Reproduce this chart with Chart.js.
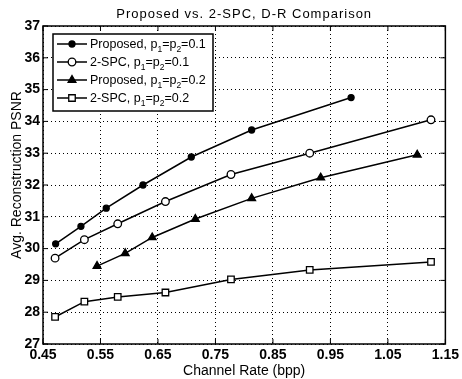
<!DOCTYPE html>
<html>
<head>
<meta charset="utf-8">
<script src="https://cdn.jsdelivr.net/npm/chart.js@4.4.1/dist/chart.umd.min.js"></script>
<style>
  html, body { margin: 0; padding: 0; background: #fff; }
  #wrap { width: 462px; height: 379px; position: relative; }
</style>
</head>
<body>
<div id="wrap"><canvas id="drChart"></canvas></div>
<script>
// channel rate (bpp) and PSNR
const ratesProp1 = [0.472, 0.516, 0.560, 0.624, 0.708, 0.813, 0.986];
const psnrProp1  = [30.15, 30.70, 31.27, 32.00, 32.88, 33.73, 34.75];
const rates2spc  = [0.471, 0.522, 0.580, 0.663, 0.777, 0.914, 1.125];
const psnr2spc1  = [29.70, 30.28, 30.78, 31.48, 32.33, 33.00, 34.05];
const ratesProp2 = [0.544, 0.593, 0.640, 0.715, 0.813, 0.933, 1.101];
const psnrProp2  = [29.45, 29.85, 30.35, 30.93, 31.58, 32.23, 32.95];
const psnr2spc2  = [27.85, 28.33, 28.48, 28.62, 29.03, 29.33, 29.58];

const seriesLabels = ["Proposed, p_1=p_2=0.1", "2-SPC, p_1=p_2=0.1", "Proposed, p_1=p_2=0.2", "2-SPC, p_1=p_2=0.2"];
const xTicks = [0.45, 0.55, 0.65, 0.75, 0.85, 0.95, 1.05, 1.15];
const yTicks = [27, 28, 29, 30, 31, 32, 33, 34, 35, 36, 37];

const titleText = "Proposed vs. 2-SPC, D-R Comparison";
const xTitle = "Channel Rate (bpp)";
const yTitle = "Avg. Reconstruction PSNR";

const FONT = "'Liberation Sans', Arial, Helvetica, sans-serif";

function pts(xs, ys) {
	return xs.map((x, i) => ({x: x, y: ys[i]}));
}

function makeSet(label, xs, ys, style, radius, fill) {
	return {
		label: label,
		data: pts(xs, ys),
		borderColor: '#000',
		borderWidth: 1.5,
		pointStyle: style,
		pointRadius: radius,
		pointBorderWidth: 1.3,
		pointBorderColor: '#000',
		pointBackgroundColor: fill,
		tension: 0
	};
}

const datasets = [
	makeSet(seriesLabels[0], ratesProp1, psnrProp1, 'circle', 3, '#000'),
	makeSet(seriesLabels[1], rates2spc, psnr2spc1, 'circle', 3.8, '#fff'),
	makeSet(seriesLabels[2], ratesProp2, psnrProp2, 'triangle', 4.5, '#000'),
	makeSet(seriesLabels[3], rates2spc, psnr2spc2, 'rect', 4.6, '#fff')
];

// text with "_x" subscripts
function drawSubText(ctx, str, x, y, size) {
	const parts = str.split(/_(.)/);
	for (let i = 0; i < parts.length; i++) {
		if (!parts[i]) continue;
		const sub = i % 2 === 1;
		ctx.font = (sub ? size - 4 : size) + 'px ' + FONT;
		ctx.fillText(parts[i], x, sub ? y + 4 : y);
		x += ctx.measureText(parts[i]).width;
	}
}

const framePlugin = {
	id: 'frame',
	afterDraw(chart) {
		const ctx = chart.ctx;
		const a = chart.chartArea;
		const xs = chart.scales.x, ys = chart.scales.y;
		ctx.save();
		ctx.strokeStyle = '#000';
		ctx.fillStyle = '#000';
		ctx.setLineDash([]);
		ctx.lineWidth = 1.5;
		ctx.strokeRect(a.left, a.top, a.right - a.left, a.bottom - a.top);

		// inner tick marks on all four sides
		ctx.lineWidth = 1;
		ctx.beginPath();
		xTicks.forEach(v => {
			const px = xs.getPixelForValue(v);
			ctx.moveTo(px, a.bottom); ctx.lineTo(px, a.bottom - 5);
			ctx.moveTo(px, a.top); ctx.lineTo(px, a.top + 5);
		});
		yTicks.forEach(v => {
			const py = ys.getPixelForValue(v);
			ctx.moveTo(a.left, py); ctx.lineTo(a.left + 5, py);
			ctx.moveTo(a.right, py); ctx.lineTo(a.right - 5, py);
		});
		ctx.stroke();

		// titles
		ctx.textAlign = 'center';
		ctx.textBaseline = 'alphabetic';
		ctx.font = '13px ' + FONT;
		ctx.letterSpacing = '1px';
		ctx.fillText(titleText, (a.left + a.right) / 2, 18);
		ctx.letterSpacing = '0px';
		ctx.font = '14px ' + FONT;
		ctx.fillText(xTitle, (a.left + a.right) / 2, 375);
		ctx.save();
		ctx.translate(21, 175);
		ctx.rotate(-Math.PI / 2);
		ctx.fillText(yTitle, 0, 0);
		ctx.restore();

		// legend box
		const lx = 53, ly = 34, lw = 160, lh = 77;
		ctx.fillStyle = '#fff';
		ctx.fillRect(lx, ly, lw, lh);
		ctx.lineWidth = 1.5;
		ctx.strokeRect(lx, ly, lw, lh);
		ctx.textAlign = 'left';
		const rows = [44, 62, 80, 98];
		chart.data.datasets.forEach((ds, i) => {
			const ry = rows[i];
			ctx.strokeStyle = '#000';
			ctx.lineWidth = 1.5;
			ctx.beginPath();
			ctx.moveTo(57, ry); ctx.lineTo(87, ry);
			ctx.stroke();
			ctx.fillStyle = ds.pointBackgroundColor;
			ctx.lineWidth = ds.pointBorderWidth;
			Chart.helpers.drawPoint(ctx, {pointStyle: ds.pointStyle, rotation: 0, radius: ds.pointRadius, borderWidth: ds.pointBorderWidth}, 72, ry);
			ctx.fillStyle = '#000';
			drawSubText(ctx, ds.label, 90, ry + 4, 12.5);
		});
		ctx.restore();
	}
};

const ctxDR = document.getElementById('drChart').getContext('2d');

window.drChart = new Chart(ctxDR, {
	type: 'line',
	data: { datasets: datasets },
	options: {
		responsive: true,
		maintainAspectRatio: false,
		animation: false,
		layout: { padding: { top: 26, right: 14, left: 0, bottom: 0 } },
		plugins: {
			legend: { display: false },
			title: { display: false },
			tooltip: { enabled: false }
		},
		scales: {
			x: {
				type: 'linear',
				min: 0.45,
				max: 1.15,
				afterBuildTicks: axis => { axis.ticks = xTicks.map(v => ({value: v})); },
				afterFit: scale => { scale.height = 35; },
				grid: { color: '#000', lineWidth: 1, drawTicks: false },
				border: { display: false, dash: [1, 3] },
				ticks: {
					color: '#000',
					padding: 3,
					maxRotation: 0,
					autoSkip: false,
					font: { family: FONT, size: 14, weight: 'bold' },
					callback: v => v.toFixed(2)
				}
			},
			y: {
				type: 'linear',
				min: 27,
				max: 37,
				afterBuildTicks: axis => { axis.ticks = yTicks.map(v => ({value: v})); },
				afterFit: scale => { scale.width = 43; },
				grid: { color: '#000', lineWidth: 1, drawTicks: false },
				border: { display: false, dash: [1, 3] },
				ticks: {
					color: '#000',
					padding: 3,
					autoSkip: false,
					font: { family: FONT, size: 14, weight: 'bold' }
				}
			}
		}
	},
	plugins: [framePlugin]
});
</script>
</body>
</html>
